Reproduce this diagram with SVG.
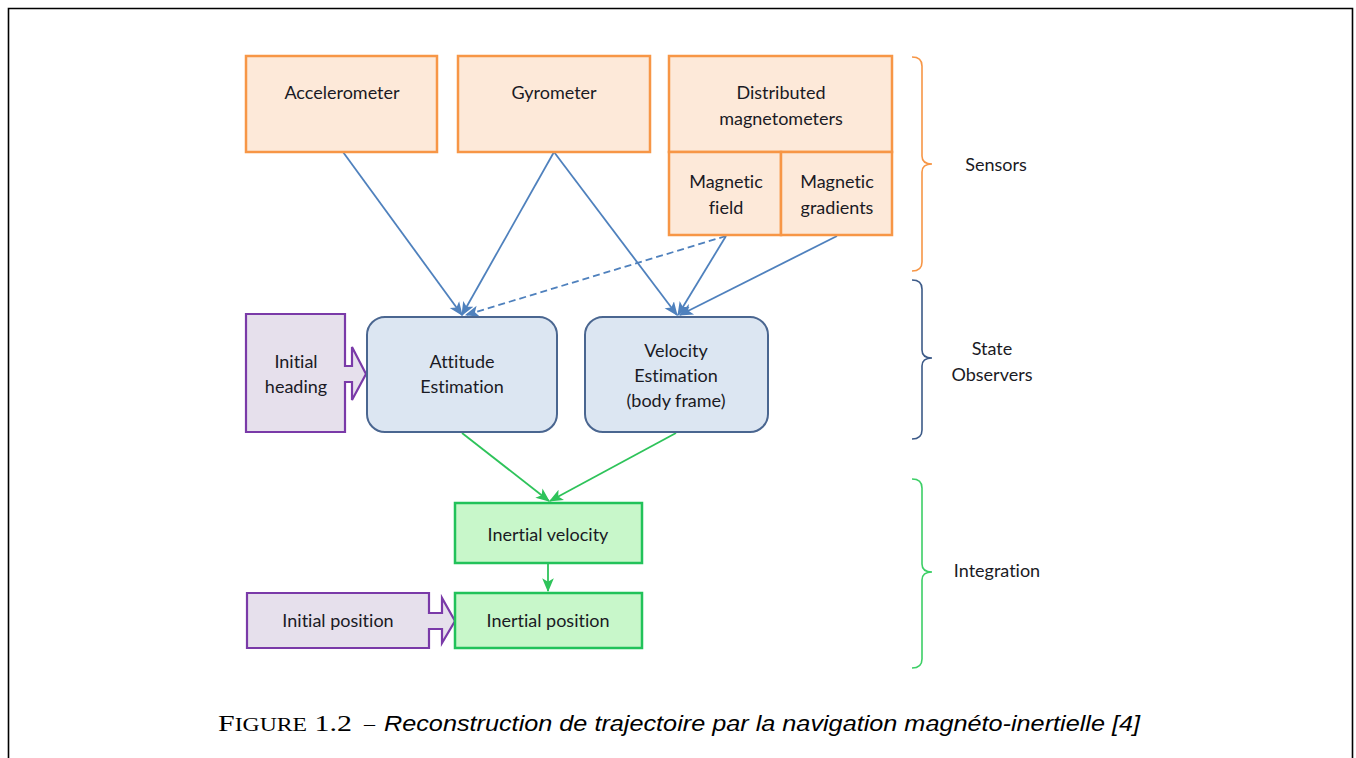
<svg xmlns="http://www.w3.org/2000/svg" width="1356" height="758" viewBox="0 0 1356 758">
<style>
.t{font-family:Lato,"Open Sans","Liberation Sans",sans-serif;font-size:18px;fill:#1a1a24;text-anchor:middle;font-variant-ligatures:none}
.sens{fill:#fde9d9;stroke:#f79646;stroke-width:2.5}
.obs{fill:#dce6f2;stroke:#4a6690;stroke-width:2}
.init{fill:#e6e0ec;stroke:#7a3aa8;stroke-width:2.2}
.integ{fill:#c8f7ca;stroke:#22c25a;stroke-width:2.5}
.blue{stroke:#4f81bd;stroke-width:1.8;fill:none;marker-end:url(#ab)}
.green{stroke:#2ec35a;stroke-width:1.8;fill:none;marker-end:url(#ag)}
.brace{fill:none;stroke-width:1.6}
</style>
<defs>
<marker id="ab" markerUnits="userSpaceOnUse" markerWidth="14" markerHeight="14" viewBox="0 0 12 12" refX="11" refY="6" orient="auto">
<path d="M0,1 L12,6 L0,11 L3,6 z" fill="#4f81bd"/>
</marker>
<marker id="ag" markerUnits="userSpaceOnUse" markerWidth="14" markerHeight="14" viewBox="0 0 12 12" refX="11" refY="6" orient="auto">
<path d="M0,1 L12,6 L0,11 L3,6 z" fill="#2ec35a"/>
</marker>
</defs>
<rect x="0" y="0" width="1356" height="758" fill="#ffffff"/>
<path d="M8.5,760 L8.5,8.5 L1352.5,8.5 L1352.5,760" fill="none" stroke="#000" stroke-width="1.6"/>

<g id="connectors">
<line class="blue" x1="343" y1="152" x2="462" y2="315"/>
<line class="blue" x1="554" y1="152" x2="462" y2="315"/>
<line class="blue" x1="554" y1="152" x2="677" y2="315"/>
<line class="blue" x1="726" y1="236" x2="466" y2="315" stroke-dasharray="7,4"/>
<line class="blue" x1="726" y1="236" x2="678" y2="315"/>
<line class="blue" x1="837" y1="236" x2="680" y2="315"/>
<line class="green" x1="462" y1="433" x2="549" y2="501"/>
<line class="green" x1="676" y1="433" x2="550" y2="501"/>
<line class="green" x1="548" y1="564" x2="548" y2="591"/>
</g>

<g id="accelerometer">
<rect class="sens" x="246" y="56" width="191" height="96"/>
<text class="t" x="342" y="99">Accelerometer</text>
</g>
<g id="gyrometer">
<rect class="sens" x="458" y="56" width="192" height="96"/>
<text class="t" x="554" y="99">Gyrometer</text>
</g>
<g id="distributed-magnetometers">
<rect class="sens" x="669" y="56" width="223" height="96"/>
<text class="t" x="781" y="99">Distributed</text>
<text class="t" x="781" y="125">magnetometers</text>
</g>
<g id="magnetic-field">
<rect class="sens" x="669" y="152" width="112" height="83"/>
<text class="t" x="726" y="188">Magnetic</text>
<text class="t" x="726" y="214">field</text>
</g>
<g id="magnetic-gradients">
<rect class="sens" x="781" y="152" width="111" height="83"/>
<text class="t" x="837" y="188">Magnetic</text>
<text class="t" x="837" y="214">gradients</text>
</g>

<g id="initial-heading">
<path class="init" d="M246,314 L345,314 L345,366 L352,366 L352,347 L366,374 L352,400 L352,382 L345,382 L345,432 L246,432 Z"/>
<text class="t" x="296" y="368">Initial</text>
<text class="t" x="296" y="393">heading</text>
</g>
<g id="attitude-estimation">
<rect class="obs" x="367" y="317" width="190" height="115" rx="18"/>
<text class="t" x="462" y="368">Attitude</text>
<text class="t" x="462" y="393">Estimation</text>
</g>
<g id="velocity-estimation">
<rect class="obs" x="585" y="317" width="183" height="115" rx="18"/>
<text class="t" x="676" y="357">Velocity</text>
<text class="t" x="676" y="382">Estimation</text>
<text class="t" x="676" y="407">(body frame)</text>
</g>

<g id="inertial-velocity">
<rect class="integ" x="455" y="503" width="187" height="60"/>
<text class="t" x="548" y="541">Inertial velocity</text>
</g>
<g id="initial-position">
<path class="init" d="M247,593 L429,593 L429,613 L442,613 L442,598 L455,621 L442,643 L442,629 L429,629 L429,648 L247,648 Z"/>
<text class="t" x="338" y="627">Initial position</text>
</g>
<g id="inertial-position">
<rect class="integ" x="455" y="593" width="187" height="55"/>
<text class="t" x="548" y="627">Inertial position</text>
</g>

<g id="sensors-brace">
<path class="brace" stroke="#f79646" d="M912,57 Q922,57 922,66 L922,156 Q922,164 932,164 Q922,164 922,172 L922,262 Q922,271 912,271"/>
<text class="t" x="996" y="171">Sensors</text>
</g>
<g id="observers-brace">
<path class="brace" stroke="#3c5a88" d="M912,280 Q922,280 922,289 L922,350 Q922,358 932,358 Q922,358 922,366 L922,430 Q922,439 912,439"/>
<text class="t" x="992" y="355">State</text>
<text class="t" x="992" y="381">Observers</text>
</g>
<g id="integration-brace">
<path class="brace" stroke="#3ccf66" d="M912,479 Q922,479 922,488 L922,564 Q922,572 932,572 Q922,572 922,580 L922,659 Q922,668 912,668"/>
<text class="t" x="997" y="577">Integration</text>
</g>

<g id="caption">
<text x="218" y="731" font-family="Liberation Serif, serif" font-size="24" fill="#000" textLength="134" lengthAdjust="spacingAndGlyphs">F<tspan font-size="19">IGURE</tspan> 1.2</text>
<text x="364" y="731" font-family="Liberation Serif, serif" font-size="22" fill="#000">–</text>
<text x="384" y="731" font-family="Liberation Sans, sans-serif" font-style="italic" font-size="21.5" fill="#000" textLength="756" lengthAdjust="spacingAndGlyphs">Reconstruction de trajectoire par la navigation magnéto-inertielle [4]</text>
</g>
</svg>
